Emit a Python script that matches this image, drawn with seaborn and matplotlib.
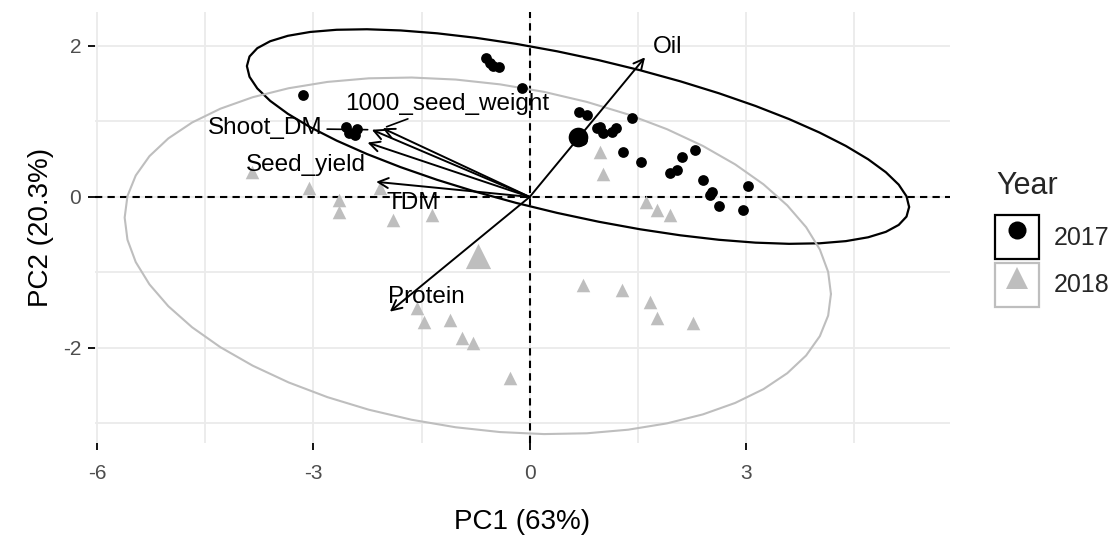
import matplotlib.pyplot as plt
import numpy as np
import pandas as pd
import seaborn as sns
from matplotlib.lines import Line2D
from matplotlib.patches import Rectangle

sns.set_theme(style="white")
plt.rcParams["font.family"] = ["Liberation Sans", "DejaVu Sans"]
plt.rcParams["axes.unicode_minus"] = False

# individual scores
pc1_2017 = [-3.15, -2.55, -2.40, -2.42, -2.50, -0.60, -0.55, -0.51, -0.42, -0.11,
            0.69, 0.79, 0.72, 0.93, 0.97, 1.01, 1.14, 1.20, 1.42, 1.29,
            1.55, 2.11, 2.29, 1.94, 2.04, 2.40, 2.53, 2.50, 2.63, 2.96, 3.03]
pc2_2017 = [1.35, 0.93, 0.90, 0.82, 0.85, 1.84, 1.78, 1.73, 1.72, 1.44,
            1.13, 1.09, 0.76, 0.91, 0.93, 0.85, 0.86, 0.91, 1.05, 0.60,
            0.46, 0.53, 0.62, 0.32, 0.36, 0.23, 0.07, 0.03, -0.12, -0.17, 0.15]
pc1_2018 = [-3.85, -3.06, -2.64, -2.64, -2.08, -1.89, -1.36, -1.57, -1.46, -1.11,
            -0.94, -0.79, -0.28, 0.97, 1.01, 1.62, 1.76, 1.94, 0.74, 1.28,
            1.67, 1.76, 2.26]
pc2_2018 = [0.33, 0.12, -0.04, -0.20, 0.12, -0.30, -0.24, -1.47, -1.66, -1.63,
            -1.87, -1.93, -2.40, 0.60, 0.31, -0.07, -0.17, -0.24, -1.17, -1.23,
            -1.39, -1.61, -1.67]

# group means (the large symbols); some individuals are hidden under labels
years = ["2017", "2018"]
mean_pc1 = [0.67, -0.72]
mean_pc2 = [0.80, -0.78]

# variable loadings (arrow tips) and where their labels sit
var_names = ["Oil", "1000_seed_weight", "Shoot_DM", "Seed_yield", "TDM", "Protein"]
var_pc1 = [1.60, -2.04, -2.19, -2.25, -2.13, -1.94]
var_pc2 = [1.85, 0.91, 0.89, 0.72, 0.20, -1.52]
label_pc1 = [1.92, -1.14, -3.67, -3.10, -1.62, -1.43]
label_pc2 = [1.99, 1.23, 0.91, 0.42, -0.08, -1.32]
has_segment = [False, True, True, False, False, False]

colours = {"2017": "black", "2018": "#BEBEBE"}
markers = {"2017": "o", "2018": "^"}
pt_size = {"2017": 60, "2018": 95}
mean_size = {"2017": 200, "2018": 330}

scores = pd.DataFrame({
    "PC1": pc1_2017 + pc1_2018,
    "PC2": pc2_2017 + pc2_2018,
    "Year": ["2017"] * len(pc1_2017) + ["2018"] * len(pc1_2018),
})
means = pd.DataFrame({"PC1": mean_pc1, "PC2": mean_pc2, "Year": years})


def norm_ellipse(x, y, center, level=0.95, segments=51):
    # stat_ellipse(type = "norm") style, drawn round the group mean
    pts = np.column_stack([x, y])
    d = len(pts) - 1
    fq = d / 2 * ((1 - level) ** (-2 / d) - 1)
    radius = np.sqrt(2 * fq)
    t = np.linspace(0, 2 * np.pi, segments)
    circle = np.column_stack([np.cos(t), np.sin(t)])
    chol = np.linalg.cholesky(np.cov(pts, rowvar=False)).T
    return np.asarray(center) + radius * circle @ chol


fig = plt.figure(figsize=(11.17, 5.44), dpi=100)
ax = fig.add_axes([95 / 1117, 1 - 443 / 544, 855 / 1117, 431 / 544])

ax.set_xlim(-6.03, 5.83)
ax.set_ylim(-3.26, 2.45)
ax.set_xticks([-6, -3, 0, 3])
ax.set_yticks([-2, 0, 2])
ax.set_xticks([-4.5, -1.5, 1.5, 4.5], minor=True)
ax.set_yticks([-3, -1, 1], minor=True)
ax.grid(True, which="both", color="#EBEBEB", lw=1.3, zorder=0)
ax.set_axisbelow(True)
for sp in ax.spines.values():
    sp.set_visible(False)
ax.tick_params(axis="both", which="major", length=5, width=1.3, color="black",
               labelsize=15, labelcolor="#4D4D4D", bottom=True, left=True)
ax.tick_params(axis="x", pad=10)
ax.tick_params(axis="y", pad=5)
ax.tick_params(axis="both", which="minor", length=0)

ax.axhline(0, color="black", lw=1.5, ls=(0, (3.5, 2.5)), zorder=1)
ax.axvline(0, color="black", lw=1.5, ls=(0, (3.5, 2.5)), zorder=1)

for i, yr in enumerate(years):
    sub = scores[scores.Year == yr]
    ell = norm_ellipse(sub.PC1.values, sub.PC2.values, (mean_pc1[i], mean_pc2[i]))
    ax.plot(ell[:, 0], ell[:, 1], color=colours[yr], lw=1.6 if yr == "2017" else 1.5, zorder=2)

for yr in years:
    sns.scatterplot(data=scores[scores.Year == yr], x="PC1", y="PC2",
                    color=colours[yr], marker=markers[yr], s=pt_size[yr],
                    linewidth=0, legend=False, ax=ax, zorder=3)
    sns.scatterplot(data=means[means.Year == yr], x="PC1", y="PC2",
                    color=colours[yr], marker=markers[yr], s=mean_size[yr],
                    linewidth=0, legend=False, ax=ax, zorder=3)

for name, x, y, lx, ly, seg in zip(var_names, var_pc1, var_pc2, label_pc1, label_pc2, has_segment):
    ax.annotate("", xy=(x, y), xytext=(0, 0),
                arrowprops=dict(arrowstyle="->", color="black", lw=1.4,
                                shrinkA=0, shrinkB=0, mutation_scale=18),
                zorder=4)
    if seg:
        ax.annotate(name, xy=(x, y), xytext=(lx, ly), ha="center", va="center",
                    fontsize=17.5, color="black", zorder=5,
                    arrowprops=dict(arrowstyle="-", color="black", lw=1.2,
                                    shrinkA=1, shrinkB=3))
    else:
        ax.text(lx, ly, name, ha="center", va="center", fontsize=17.5,
                color="black", zorder=5)

ax.set_xlabel("PC1 (63%)", fontsize=20, color="black", labelpad=19)
ax.set_ylabel("PC2 (20.3%)", fontsize=20, color="black", labelpad=6)

# legend: title as its own text so the keys can sit a bit lower
fig.text(996 / 1117, 1 - 186 / 544, "Year", fontsize=22, va="center", ha="left")
handles = []
for yr in years:
    box = Rectangle((0, 0), 1, 1, facecolor="white", edgecolor=colours[yr], lw=1.6)
    mk = Line2D([], [], marker=markers[yr], color=colours[yr], ls="",
                markersize=13 if yr == "2017" else 16, markeredgewidth=0)
    handles.append((box, mk))
leg = fig.legend(handles, years, loc="upper left",
                 bbox_to_anchor=(990 / 1117, 1 - 210 / 544), frameon=False,
                 fontsize=18, handlelength=1.76, handleheight=2.33,
                 handletextpad=0.6, labelspacing=0.15, borderpad=0.2,
                 borderaxespad=0)

fig.savefig("out.png", dpi=100)
